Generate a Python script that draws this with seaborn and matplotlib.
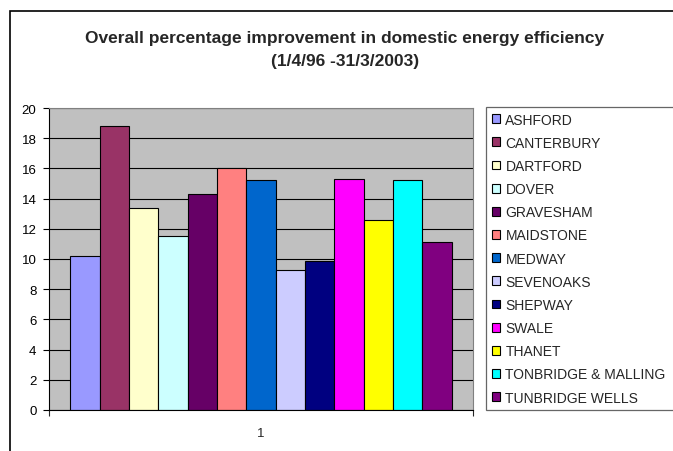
import matplotlib
matplotlib.use("Agg")
import matplotlib.pyplot as plt
import seaborn as sns
import pandas as pd
from matplotlib.patches import Rectangle

# data
districts = ["ASHFORD", "CANTERBURY", "DARTFORD", "DOVER", "GRAVESHAM", "MAIDSTONE",
             "MEDWAY", "SEVENOAKS", "SHEPWAY", "SWALE", "THANET",
             "TONBRIDGE & MALLING", "TUNBRIDGE WELLS"]
improvement = [10.2, 18.8, 13.4, 11.5, 14.3, 16.0, 15.2, 9.3, 9.9, 15.3, 12.6, 15.2, 11.1]
bar_colours = ["#9999FF", "#993366", "#FFFFCC", "#CCFFFF", "#660066", "#FF8080",
               "#0066CC", "#CCCCFF", "#000080", "#FF00FF", "#FFFF00",
               "#00FFFF", "#800080"]
group_label = "1"
y_ticks = list(range(0, 21, 2))

df = pd.DataFrame({"group": group_label, "district": districts, "value": improvement})

sns.set_style("white")
plt.rcParams["font.family"] = ["Liberation Sans", "DejaVu Sans"]

fig = plt.figure(figsize=(6.73, 4.52), dpi=100)
ax = fig.add_axes([49 / 673, 41 / 452, 424 / 673, 302 / 452])

sns.barplot(data=df, x="group", y="value", hue="district", hue_order=districts,
            palette=bar_colours, width=0.9, saturation=1, edgecolor="black",
            linewidth=0.8, ax=ax)

ax.set_facecolor("#C0C0C0")
ax.set_axisbelow(True)
ax.yaxis.grid(True, color="black", linewidth=0.8)
ax.set_ylim(0, 20)
ax.set_xlim(-0.5, 0.5)
ax.set_yticks(y_ticks)
ax.set_xticks([0])
ax.set_xticklabels([group_label])
ax.set_xticks([-0.5, 0.5], minor=True)
ax.set_xlabel("")
ax.set_ylabel("")
ax.tick_params(axis="y", left=True, length=4, width=0.8, direction="out", pad=5,
               labelsize=9.5, colors="black")
ax.tick_params(axis="x", which="major", bottom=True, length=0, pad=12, labelsize=9.5)
ax.tick_params(axis="x", which="minor", bottom=True, length=4, width=0.8, direction="out")
for side in ["left", "bottom"]:
    ax.spines[side].set_color("black")
    ax.spines[side].set_linewidth(0.8)
for side in ["top", "right"]:
    ax.spines[side].set_color("#808080")
    ax.spines[side].set_linewidth(0.8)

handles, labels = ax.get_legend_handles_labels()
ax.legend_.remove()
leg = fig.legend(handles, labels, loc="upper left",
                 bbox_to_anchor=(486 / 673, 1 - 108 / 452, (705 - 486) / 673, 0.0),
                 mode="expand", fontsize=10, frameon=True, fancybox=False,
                 edgecolor="#404040", borderpad=0.4, borderaxespad=0,
                 handlelength=0.6, handleheight=0.6, handletextpad=0.4,
                 labelspacing=0.66)
leg.get_frame().set_linewidth(0.9)
for h in leg.legend_handles:
    h.set_edgecolor("black")
    h.set_linewidth(0.8)

fig.text(345 / 673, 1 - 50 / 452,
         "Overall percentage improvement in domestic energy efficiency\n(1/4/96 -31/3/2003)",
         ha="center", va="center", multialignment="center", fontsize=12.5,
         fontweight="bold", linespacing=1.7)

# chart-area frame; its right and bottom edges sit outside the image
fig.patches.append(Rectangle((10 / 673, -0.2), 1.2, 1 - 12 / 452 + 0.2,
                             transform=fig.transFigure, fill=False,
                             edgecolor="black", linewidth=1.2))

fig.savefig("out.png", dpi=100)
